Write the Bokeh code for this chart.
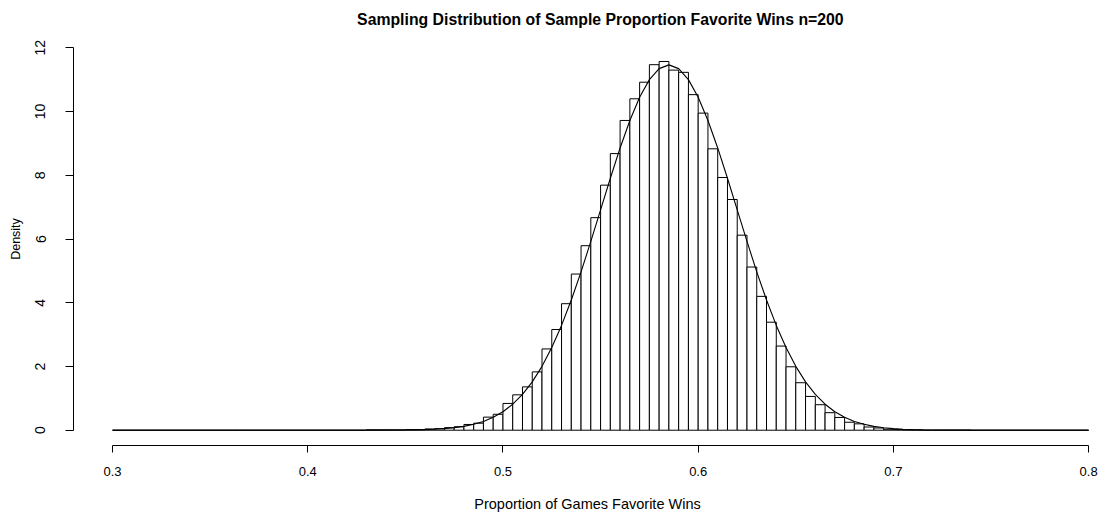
import numpy as np
from bokeh.plotting import figure
from bokeh.models import FixedTicker, Range1d, ColumnDataSource, Title
from bokeh.embed import file_html
from bokeh.resources import INLINE

# ---------------- data ----------------
title = "Sampling Distribution of Sample Proportion Favorite Wins n=200"
x_label = "Proportion of Games Favorite Wins"
y_label = "Density"
x_ticks = [0.3, 0.4, 0.5, 0.6, 0.7, 0.8]
y_ticks = [0, 2, 4, 6, 8, 10, 12]

hist_start = 0.3
hist_end = 0.8
bin_width = 0.005

# left edge of each non-empty bin and its density
bin_left = [0.43, 0.435, 0.44, 0.445, 0.45, 0.455, 0.46, 0.465, 0.47, 0.475,
            0.48, 0.485, 0.49, 0.495, 0.5, 0.505, 0.51, 0.515, 0.52, 0.525,
            0.53, 0.535, 0.54, 0.545, 0.55, 0.555, 0.56, 0.565, 0.57, 0.575,
            0.58, 0.585, 0.59, 0.595, 0.6, 0.605, 0.61, 0.615, 0.62, 0.625,
            0.63, 0.635, 0.64, 0.645, 0.65, 0.655, 0.66, 0.665, 0.67, 0.675,
            0.68, 0.685, 0.69, 0.695, 0.7, 0.705, 0.71]
density = [0.01, 0.01, 0.01, 0.01, 0.02, 0.02, 0.04, 0.05, 0.08, 0.11,
           0.18, 0.22, 0.41, 0.50, 0.84, 1.11, 1.36, 1.83, 2.55, 3.16,
           3.97, 4.90, 5.79, 6.67, 7.69, 8.68, 9.72, 10.40, 10.92, 11.47,
           11.57, 11.30, 11.23, 10.53, 9.95, 8.83, 7.93, 7.24, 6.12, 5.12,
           4.20, 3.39, 2.64, 1.99, 1.49, 1.06, 0.80, 0.55, 0.40, 0.25,
           0.20, 0.10, 0.07, 0.03, 0.02, 0.01, 0.01]

# density curve
curve_x = [0.30, 0.40, 0.43, 0.45, 0.455, 0.46, 0.465, 0.47, 0.475, 0.48,
           0.485, 0.49, 0.495, 0.50, 0.505, 0.51, 0.515, 0.52, 0.525, 0.53,
           0.535, 0.54, 0.545, 0.55, 0.555, 0.56, 0.565, 0.57, 0.575, 0.58,
           0.585, 0.59, 0.595, 0.60, 0.605, 0.61, 0.615, 0.62, 0.625, 0.63,
           0.635, 0.64, 0.645, 0.65, 0.655, 0.66, 0.665, 0.67, 0.675, 0.68,
           0.685, 0.69, 0.695, 0.70, 0.705, 0.71, 0.715, 0.72, 0.74, 0.77, 0.80]
curve_y = [0.0, 0.0, 0.001, 0.006, 0.011, 0.018, 0.03, 0.049, 0.077, 0.121,
           0.185, 0.276, 0.405, 0.581, 0.816, 1.124, 1.517, 2.004, 2.594, 3.288,
           4.085, 4.970, 5.925, 6.913, 7.906, 8.857, 9.719, 10.447, 11.001, 11.346,
           11.464, 11.346, 11.001, 10.447, 9.719, 8.857, 7.906, 6.913, 5.925, 4.970,
           4.085, 3.288, 2.594, 2.004, 1.517, 1.124, 0.816, 0.581, 0.405, 0.276,
           0.185, 0.121, 0.077, 0.049, 0.030, 0.018, 0.011, 0.006, 0.001, 0.0, 0.0]

# ---------------- build full histogram (empty bins have zero height) ----------------
n_bins = int(round((hist_end - hist_start) / bin_width))
lefts = [round(hist_start + i * bin_width, 4) for i in range(n_bins)]
lookup = {round(b, 4): d for b, d in zip(bin_left, density)}
tops = [lookup.get(l, 0.0) for l in lefts]
rights = [round(l + bin_width, 4) for l in lefts]
hist_src = ColumnDataSource(dict(left=lefts, right=rights, top=tops, bottom=[0.0] * n_bins))

FONT = "Liberation Sans"

p = figure(width=1101, height=514, output_backend="svg", toolbar_location=None,
           x_range=Range1d(0.28, 0.8066), y_range=Range1d(-0.48, 12.48),
           min_border_left=73, min_border_right=0, min_border_top=32, min_border_bottom=67)
p.outline_line_color = None
p.xgrid.visible = False
p.ygrid.visible = False
p.background_fill_color = "white"
p.border_fill_color = "white"

p.quad(left="left", right="right", top="top", bottom="bottom", source=hist_src,
       fill_color="white", line_color="black", line_width=1)
p.line(curve_x, curve_y, line_color="black", line_width=1.1)

# title: left-aligned with an offset so it is centred over the data range
p.add_layout(Title(text=title, align="left", offset=283.6, vertical_align="top",
                   standoff=6, text_line_height=1.35, text_font=FONT, text_font_style="bold",
                   text_font_size="15.8px", text_color="black"), "above")

# x axis
xa = p.xaxis[0]
xa.ticker = FixedTicker(ticks=x_ticks)
xa.bounds = (x_ticks[0], x_ticks[-1])
xa.minor_tick_line_color = None
xa.major_tick_in = 0
xa.major_tick_out = 7
xa.axis_line_color = "black"
xa.major_tick_line_color = "black"
xa.major_label_text_font = FONT
xa.major_label_text_font_size = "13px"
xa.major_label_text_color = "black"
xa.major_label_standoff = 14
xa.axis_label = x_label
xa.axis_label_text_font = FONT
xa.axis_label_text_font_style = "normal"
xa.axis_label_text_font_size = "14.5px"
xa.axis_label_text_color = "black"
xa.axis_label_standoff = 17

# y axis
ya = p.yaxis[0]
ya.ticker = FixedTicker(ticks=y_ticks)
ya.bounds = (y_ticks[0], y_ticks[-1])
ya.minor_tick_line_color = None
ya.major_tick_in = 0
ya.major_tick_out = 8
ya.axis_line_color = "black"
ya.major_tick_line_color = "black"
ya.major_label_text_font = FONT
ya.major_label_text_font_size = "14px"
ya.major_label_text_color = "black"
ya.major_label_orientation = "parallel"
ya.major_label_standoff = 20
ya.axis_label = y_label
ya.axis_label_text_font = FONT
ya.axis_label_text_font_style = "normal"
ya.axis_label_text_font_size = "12.5px"
ya.axis_label_text_color = "black"
ya.axis_label_standoff = 10

open("out.html", "w").write(file_html(p, INLINE))
